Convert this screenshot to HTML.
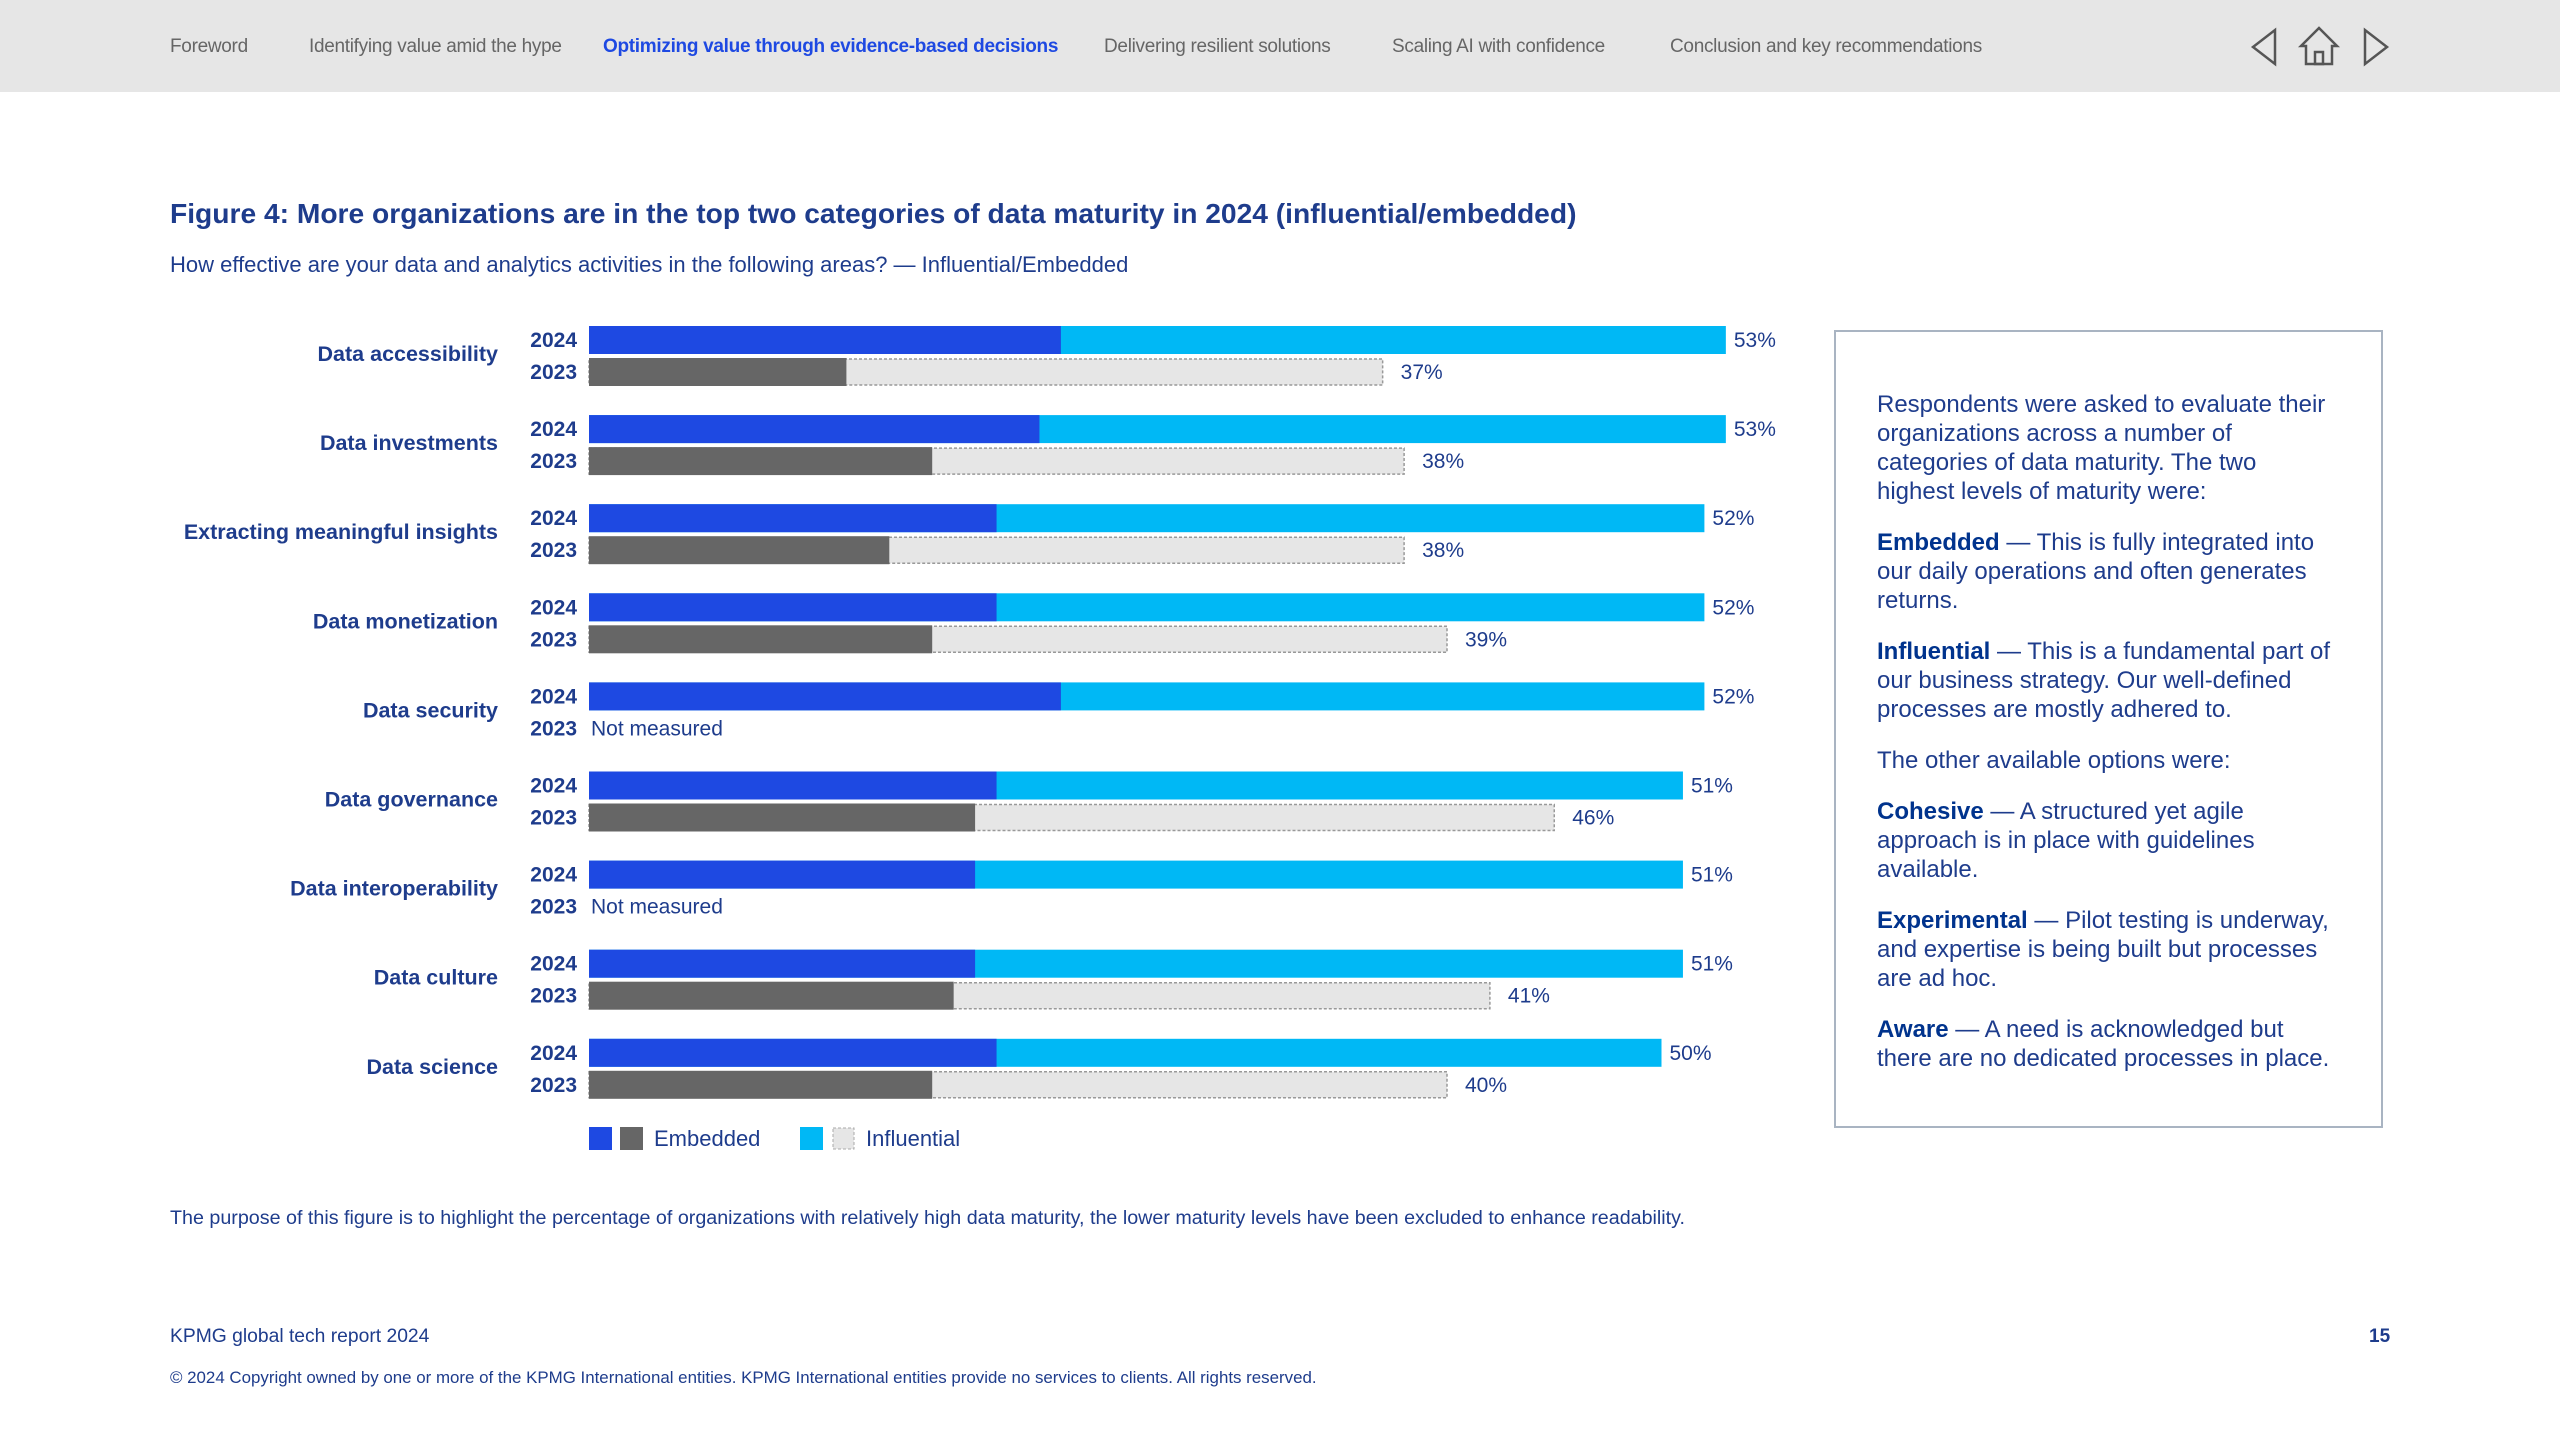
<!DOCTYPE html>
<html><head><meta charset="utf-8">
<style>
body{margin:0;width:2560px;height:1440px;background:#fff;font-family:"Liberation Sans",sans-serif;position:relative;overflow:hidden;color:#1e3c8c}
.nav{position:absolute;left:0;top:0;width:2560px;height:92px;background:#e6e6e6}
.nav span{position:absolute;top:36px;font-size:19px;color:#666;white-space:nowrap;letter-spacing:-0.3px}
.nav span.act{color:#1e49e2;font-weight:bold}
.abs{position:absolute;white-space:nowrap}
.box{position:absolute;left:1834px;top:330px;width:549px;height:798px;border:2px solid #a9b4c2;box-sizing:border-box}
.box p{margin:0 0 22px 0;font-size:24px;line-height:29px;color:#1e3c8c;width:462px}
.box b{color:#00338d}
</style></head><body>
<div class="nav">
<span style="left:170px">Foreword</span>
<span style="left:309px">Identifying value amid the hype</span>
<span class="act" style="left:603px">Optimizing value through evidence-based decisions</span>
<span style="left:1104px">Delivering resilient solutions</span>
<span style="left:1392px">Scaling AI with confidence</span>
<span style="left:1670px">Conclusion and key recommendations</span>
<svg style="position:absolute;left:2245px;top:22px" width="150" height="50">
<polygon points="30,8 30,42 8,25" fill="none" stroke="#555" stroke-width="2.5"/>
<g fill="none" stroke="#555" stroke-width="2.5"><polygon points="74,6 56,24 61,24 61,42 87,42 87,24 92,24"/><rect x="70" y="30" width="8" height="12"/></g>
<polygon points="120,8 120,42 142,25" fill="none" stroke="#555" stroke-width="2.5"/>
</svg>
</div>
<div class="abs" style="left:170px;top:197px;font-size:28.2px;font-weight:bold;color:#1e3c8c">Figure 4: More organizations are in the top two categories of data maturity in 2024 (influential/embedded)</div>
<div class="abs" style="left:170px;top:252px;font-size:22px;color:#1e3c8c">How effective are your data and analytics activities in the following areas? — Influential/Embedded</div>

<svg id="chart" style="position:absolute;left:0;top:0" width="1820" height="1180"></svg>

<div class="box">
<div style="position:absolute;left:41px;top:58px">
<p>Respondents were asked to evaluate their organizations across a number of categories of data maturity. The two highest levels of maturity were:</p>
<p><b>Embedded</b> — This is fully integrated into our daily operations and often generates returns.</p>
<p><b>Influential</b> — This is a fundamental part of our business strategy. Our well-defined processes are mostly adhered to.</p>
<p>The other available options were:</p>
<p><b>Cohesive</b> — A structured yet agile approach is in place with guidelines available.</p>
<p><b>Experimental</b> — Pilot testing is underway, and expertise is being built but processes are ad hoc.</p>
<p><b>Aware</b> — A need is acknowledged but there are no dedicated processes in place.</p>
</div></div>

<div class="abs" style="left:170px;top:1207px;font-size:19.7px;color:#1e3c8c">The purpose of this figure is to highlight the percentage of organizations with relatively high data maturity, the lower maturity levels have been excluded to enhance readability.</div>
<div class="abs" style="left:170px;top:1326px;font-size:19.3px;color:#1e3c8c">KPMG global tech report 2024</div>
<div class="abs" style="left:2369px;top:1326px;font-size:19px;font-weight:bold;color:#1e3c8c">15</div>
<div class="abs" style="left:170px;top:1368px;font-size:16.9px;color:#1e3c8c">© 2024 Copyright owned by one or more of the KPMG International entities. KPMG International entities provide no services to clients. All rights reserved.</div>

<script>
const categories=["Data accessibility","Data investments","Extracting meaningful insights","Data monetization","Data security","Data governance","Data interoperability","Data culture","Data science"];
const total2024=[53,53,52,52,52,51,51,51,50];
const embedded2024=[22,21,19,19,22,19,18,18,19];
const total2023=[37,38,38,40,null,45,null,42,40];
const labels2023=["37%","38%","38%","39%",null,"46%",null,"41%","40%"];
const embedded2023=[12,16,14,16,null,18,null,17,16];
const svg=document.getElementById('chart');
const NS='http://www.w3.org/2000/svg';
const x0=589, pxPer=21.45, rowTop=326, rowStep=89.1, barH=28, gap=4;
const xs=v=>x0+v*pxPer;
const yRow=i=>rowTop+i*rowStep;
function mk(tag,attrs,txt){const e=document.createElementNS(NS,tag);for(const k in attrs)e.setAttribute(k,attrs[k]);if(txt!=null)e.textContent=txt;svg.appendChild(e);return e;}
categories.forEach((c,i)=>{
 const y=yRow(i), y2=y+barH+gap;
 let t=mk('text',{x:498,y:y+barH+7,'text-anchor':'end','font-size':21.5,'font-weight':'bold',fill:'#1e3c8c'},c);
 
 t=mk('text',{x:577,y:y+21,'text-anchor':'end','font-size':21,'font-weight':'bold',fill:'#1e3c8c'},'2024');
 
 t=mk('text',{x:577,y:y2+21,'text-anchor':'end','font-size':21,'font-weight':'bold',fill:'#1e3c8c'},'2023');
 
 let r=mk('rect',{x:xs(0),y:y,width:xs(total2024[i])-xs(0),height:barH,fill:'#00b8f5'});
 
 r=mk('rect',{x:xs(0),y:y,width:xs(embedded2024[i])-xs(0),height:barH,fill:'#1e49e2'});
 
 t=mk('text',{x:xs(total2024[i])+8,y:y+21,'font-size':21,fill:'#1e3c8c'},total2024[i]+'%');
 
 if(total2023[i]==null){
  t=mk('text',{x:591,y:y2+21,'font-size':21,fill:'#1e3c8c'},'Not measured');
  
 } else {
  r=mk('rect',{x:xs(0),y:y2+1,width:xs(total2023[i])-xs(0),height:barH-2,fill:'#e6e6e6',stroke:'#999','stroke-dasharray':'3,2','stroke-width':1.5});
  
  r=mk('rect',{x:xs(0),y:y2,width:xs(embedded2023[i])-xs(0),height:barH,fill:'#666'});
  
  t=mk('text',{x:xs(total2023[i])+18,y:y2+21,'font-size':21,fill:'#1e3c8c'},labels2023[i]);
  
 }
});
let l=mk('rect',{x:589,y:1127,width:23,height:23,fill:'#1e49e2'});

l=mk('rect',{x:620,y:1127,width:23,height:23,fill:'#666'});

l=mk('text',{x:654,y:1146,'font-size':22,fill:'#1e3c8c'},'Embedded');

l=mk('rect',{x:800,y:1127,width:23,height:23,fill:'#00b8f5'});

l=mk('rect',{x:833,y:1128,width:21,height:21,fill:'#e6e6e6',stroke:'#aaa','stroke-dasharray':'3,2'});

l=mk('text',{x:866,y:1146,'font-size':22,fill:'#1e3c8c'},'Influential');

</script>
</body></html>
